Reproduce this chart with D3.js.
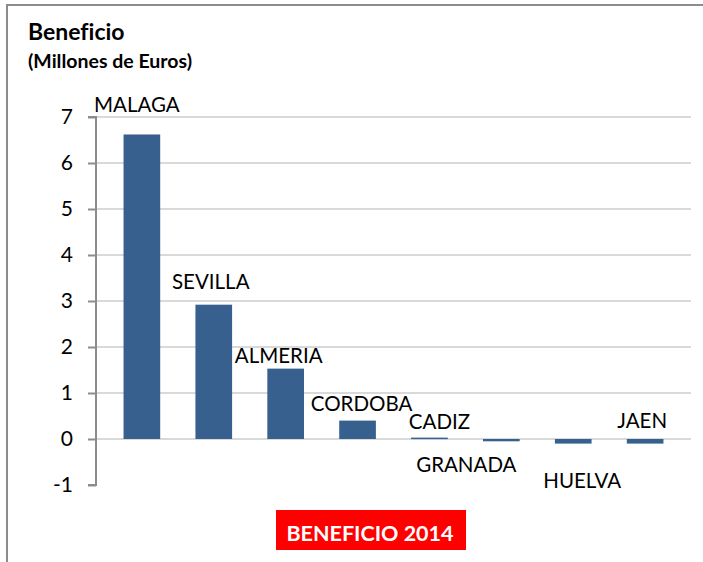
<!DOCTYPE html>
<html>
<head>
<meta charset="utf-8">
<script src="https://cdn.jsdelivr.net/npm/d3@7"></script>
<style>
  html, body { margin: 0; padding: 0; background: #fff; }
  svg { display: block; font-family: Lato, "Open Sans", sans-serif; font-variant-ligatures: none; }
</style>
</head>
<body>
<svg id="chart" width="703" height="562"></svg>
<script>
// ---- data ----
const provinces = ["MALAGA", "SEVILLA", "ALMERIA", "CORDOBA", "CADIZ", "GRANADA", "HUELVA", "JAEN"];
const beneficio2014 = [6.62, 2.92, 1.53, 0.4, 0.03, -0.05, -0.1, -0.1];
const yTicks = [-1, 0, 1, 2, 3, 4, 5, 6, 7];
const yTickLabels = ["-1", "0", "1", "2", "3", "4", "5", "6", "7"];
const titleText = "Beneficio";
const subtitleText = "(Millones de Euros)";
const legendText = "BENEFICIO 2014";

// label nudges (style only): [dx from bar centre, baseline offset from bar end]
const labelNudge = [[-5, -22], [-3, -16], [-7, -6], [4, -10], [10, -9], [-35, 31], [9, 44], [-3, -16]];

// ---- layout ----
const svg = d3.select("#chart");
const plot = { left: 96, right: 691, top: 117, bottom: 485 };

const x = d3.scaleBand().domain(provinces).range([plot.left, plot.right])
  .paddingInner(0.49).paddingOuter(0.383);
const y = d3.scaleLinear().domain([-1, 7]).range([plot.bottom, plot.top]);

// outer frame
svg.append("rect").attr("x", 7).attr("y", 5).attr("width", 720).attr("height", 600)
  .attr("fill", "none").attr("stroke", "#8c8c8c").attr("stroke-width", 2);

// titles
svg.append("text").attr("x", 28).attr("y", 40).attr("font-size", 23).attr("font-weight", 700)
  .attr("fill", "#000").text(titleText);
svg.append("text").attr("x", 28).attr("y", 68).attr("font-size", 19.5).attr("font-weight", 700)
  .attr("fill", "#000").text(subtitleText);

// gridlines
svg.append("g").selectAll("line").data(yTicks.filter(d => d !== -1)).join("line")
  .attr("x1", plot.left).attr("x2", plot.right)
  .attr("y1", d => y(d)).attr("y2", d => y(d))
  .attr("stroke", "#d9d9d9").attr("stroke-width", 2);

// y axis
const yAxis = d3.axisLeft(y).tickValues(yTicks).tickSize(8).tickPadding(15)
  .tickFormat((d, i) => yTickLabels[i]);
const gy = svg.append("g").attr("transform", `translate(${plot.left},0)`).call(yAxis);
gy.select(".domain").attr("stroke", "#8c8c8c").attr("stroke-width", 2)
  .attr("d", `M-8,${y(-1)}H0V${y(7)}H-8`);
gy.selectAll(".tick line").attr("stroke", "#8c8c8c").attr("stroke-width", 2);
gy.selectAll(".tick text").attr("font-size", 21).attr("fill", "#000")
  .attr("font-family", "Lato, 'Open Sans', sans-serif");

// bars
svg.append("g").selectAll("rect").data(provinces).join("rect")
  .attr("x", d => x(d))
  .attr("width", x.bandwidth())
  .attr("y", (d, i) => y(Math.max(0, beneficio2014[i])))
  .attr("height", (d, i) => Math.max(1.5, Math.abs(y(beneficio2014[i]) - y(0))))
  .attr("fill", "#37608f");

// labels
svg.append("g").selectAll("text").data(provinces).join("text")
  .attr("x", (d, i) => x(d) + x.bandwidth() / 2 + labelNudge[i][0])
  .attr("y", (d, i) => y(beneficio2014[i]) + labelNudge[i][1])
  .attr("text-anchor", "middle")
  .attr("font-size", 20.5)
  .attr("fill", "#000")
  .text(d => d);

// legend box
const lg = svg.append("g");
lg.append("rect").attr("x", 276).attr("y", 510).attr("width", 190).attr("height", 40).attr("fill", "#ff0000");
lg.append("text").attr("x", 370).attr("y", 541).attr("text-anchor", "middle")
  .attr("font-size", 21.5).attr("font-weight", 700).attr("fill", "#fff").text(legendText);
</script>
</body>
</html>
